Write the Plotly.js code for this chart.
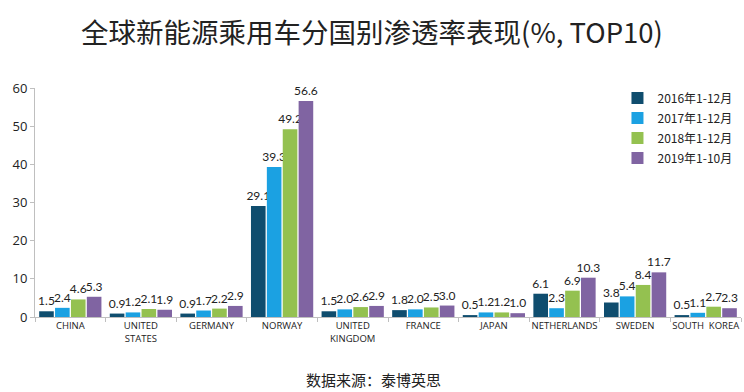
<!DOCTYPE html>
<html>
<head>
<meta charset="utf-8">
<script src="https://cdn.plot.ly/plotly-3.0.1.min.js"></script>
<style>body{margin:0;padding:0;background:#fff;}#chart{width:744px;height:392px;}</style>
</head>
<body>
<div id="chart"></div>
<script>
const categories = ["CHINA", "UNITED<br>STATES", "GERMANY", "NORWAY", "UNITED<br>KINGDOM", "FRANCE", "JAPAN", "NETHERLANDS", "SWEDEN", "SOUTH  KOREA"];
const seriesNames = ["2016年1-12月", "2017年1-12月", "2018年1-12月", "2019年1-10月"];
const v2016 = [1.5, 0.9, 0.9, 29.1, 1.5, 1.8, 0.5, 6.1, 3.8, 0.5];
const v2017 = [2.4, 1.2, 1.7, 39.3, 2.0, 2.0, 1.2, 2.3, 5.4, 1.1];
const v2018 = [4.6, 2.1, 2.2, 49.2, 2.6, 2.5, 1.2, 6.9, 8.4, 2.7];
const v2019 = [5.3, 1.9, 2.9, 56.6, 2.9, 3.0, 1.0, 10.3, 11.7, 2.3];
const colors = ["#0f4d6e", "#1ba1e2", "#94c150", "#8064a2"];
const allValues = [v2016, v2017, v2018, v2019];

const traces = allValues.map((vals, i) => ({
  type: "bar",
  name: seriesNames[i],
  legendgroup: "g" + i,
  x: categories,
  y: vals,
  marker: {color: colors[i]},
  texttemplate: "%{y:.1f}",
  textposition: "outside",
  constraintext: "none",
  cliponaxis: false,
  textfont: {family: "Lato, sans-serif", size: 12, color: "#222"},
  hoverinfo: "none"
}));

const layout = {
  width: 744, height: 392,
  margin: {l: 35, r: 3, t: 88, b: 75},
  paper_bgcolor: "#fff", plot_bgcolor: "#fff",
  font: {family: "Noto Sans CJK SC, sans-serif", color: "#222"},
  title: {text: "全球新能源乘用车分国别渗透率表现(%, TOP10)", font: {family: "Noto Sans CJK SC, sans-serif", size: 27.5, color: "#222"}, x: 0.5, xanchor: "center", y: 0.915, yanchor: "middle"},
  barmode: "group",
  bargap: 0.1,
  bargroupgap: 0.08,
  xaxis: {
    type: "category",
    automargin: false,
    showgrid: false, zeroline: false,
    showline: true, linecolor: "#bfbfbf", linewidth: 1,
    ticks: "outside", tickson: "boundaries", ticklen: 4, tickcolor: "#bfbfbf",
    tickfont: {family: "Open Sans, sans-serif", size: 9.5, color: "#222"},
    tickangle: 0
  },
  yaxis: {
    range: [0, 60], dtick: 10,
    automargin: false,
    showgrid: false, zeroline: false,
    showline: true, linecolor: "#bfbfbf", linewidth: 1,
    ticks: "outside", ticklen: 4, tickcolor: "#bfbfbf",
    tickfont: {family: "Open Sans, sans-serif", size: 13, color: "#222"}
  },
  legend: {
    x: 0.995, y: 1.02, xanchor: "right", yanchor: "top",
    traceorder: "grouped",
    tracegroupgap: 1,
    font: {family: "Noto Sans CJK SC, sans-serif", size: 12, color: "#222"},
    bgcolor: "rgba(0,0,0,0)"
  },
  annotations: [{
    text: "数据来源：泰博英思", xref: "paper", yref: "paper", x: 0.48, y: -0.272,
    xanchor: "center", yanchor: "middle", showarrow: false,
    font: {family: "Noto Sans CJK SC, sans-serif", size: 15, color: "#222"}
  }]
};

Plotly.newPlot("chart", traces, layout, {displayModeBar: false, staticPlot: true});
</script>
</body>
</html>
